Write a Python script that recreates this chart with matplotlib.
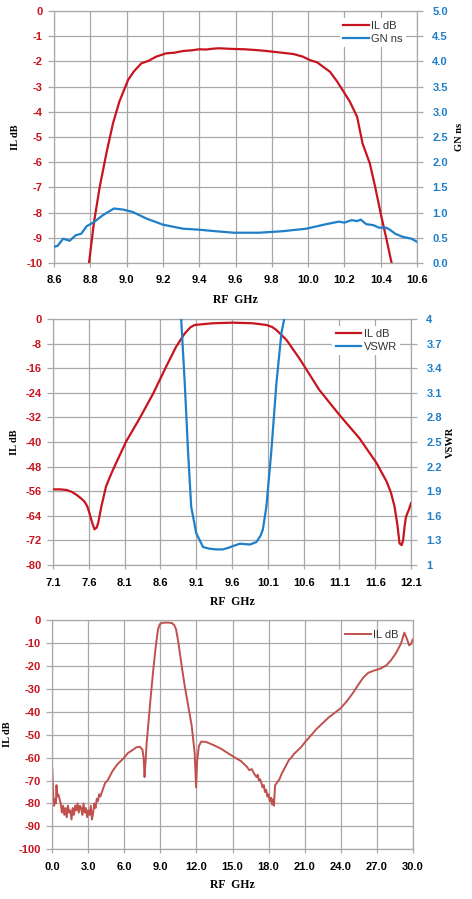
import numpy as np
import matplotlib
matplotlib.use('Agg')
import matplotlib.pyplot as plt
from matplotlib.ticker import FormatStrFormatter
from matplotlib.font_manager import FontProperties

# ---- panel 1: passband IL + group delay
f1_il = [8.78, 8.793, 8.82, 8.852, 8.89, 8.925, 8.96, 9.008, 9.04, 9.081, 9.12, 9.164, 9.219,
         9.26, 9.31, 9.36, 9.40, 9.44, 9.47, 9.51, 9.56, 9.60, 9.65, 9.71, 9.76, 9.81, 9.86,
         9.92, 9.97, 10.01, 10.05, 10.08, 10.12, 10.16, 10.19, 10.23, 10.27, 10.30, 10.34,
         10.37, 10.40, 10.43, 10.46, 10.47]
il1 = [-10.5, -10.0, -8.4, -6.98, -5.6, -4.46, -3.6, -2.74, -2.4, -2.08, -1.98, -1.81, -1.68,
       -1.66, -1.59, -1.56, -1.52, -1.53, -1.50, -1.48, -1.50, -1.51, -1.52, -1.55, -1.58,
       -1.62, -1.66, -1.71, -1.81, -1.95, -2.04, -2.2, -2.41, -2.8, -3.14, -3.6, -4.2, -5.26,
       -6.05, -7.0, -8.04, -9.0, -10.0, -10.4]
f1_gd = [8.60, 8.62, 8.65, 8.67, 8.686, 8.72, 8.75, 8.78, 8.82, 8.87, 8.93, 8.98, 9.035, 9.11,
         9.20, 9.31, 9.40, 9.49, 9.59, 9.73, 9.86, 9.99, 10.10, 10.17, 10.20, 10.24, 10.27,
         10.29, 10.32, 10.36, 10.39, 10.43, 10.45, 10.48, 10.52, 10.57, 10.6]
gd1 = [0.32, 0.34, 0.48, 0.46, 0.44, 0.55, 0.58, 0.73, 0.81, 0.95, 1.08, 1.06, 1.01, 0.88,
       0.76, 0.68, 0.66, 0.63, 0.60, 0.60, 0.63, 0.68, 0.77, 0.82, 0.80, 0.85, 0.83, 0.86,
       0.77, 0.75, 0.70, 0.70, 0.66, 0.58, 0.52, 0.48, 0.42]

# ---- panel 2: wideband IL + VSWR
f2_il = [7.1, 7.2, 7.29, 7.36, 7.43, 7.5, 7.54, 7.58, 7.61, 7.65, 7.68, 7.71, 7.73, 7.78, 7.84,
         7.91, 7.98, 8.12, 8.31, 8.50, 8.68, 8.82, 8.94, 9.02, 9.08, 9.33, 9.61, 9.89, 10.08,
         10.16, 10.22, 10.36, 10.54, 10.82, 11.1, 11.38, 11.62, 11.76, 11.82, 11.87, 11.91,
         11.94, 11.97, 11.99, 12.01, 12.03, 12.07, 12.1]
il2 = [-55.4, -55.4, -55.6, -56.2, -57.2, -58.5, -59.4, -61.0, -63.2, -66.5, -68.4, -67.8,
       -66.4, -60.5, -54.5, -50.5, -46.9, -39.9, -32.3, -24.2, -15.5, -9.0, -4.7, -2.7, -1.95,
       -1.4, -1.2, -1.4, -1.95, -2.6, -3.6, -6.8, -12.8, -23.1, -31.2, -38.8, -46.9, -52.9,
       -56.5, -61.0, -67.0, -73.0, -73.5, -71.9, -67.5, -64.3, -62.0, -59.9]
f2_vs = [8.87, 8.89, 8.94, 8.985, 9.03, 9.10, 9.195, 9.28, 9.38, 9.47, 9.55, 9.61, 9.71, 9.78,
         9.85, 9.94, 10.0, 10.03, 10.08, 10.15, 10.22, 10.29, 10.33, 10.35]
vswr2 = [4.4, 4.0, 3.215, 2.40, 1.71, 1.39, 1.22, 1.20, 1.19, 1.19, 1.21, 1.23, 1.26, 1.255,
         1.25, 1.28, 1.36, 1.43, 1.71, 2.40, 3.215, 3.83, 4.0, 4.3]

# ---- panel 3: ultra-wideband IL
f3 = [0.0, 0.05, 0.1, 0.15, 0.2, 0.3, 0.35, 0.4, 0.5, 0.6, 0.7, 0.8, 0.9, 1.0, 1.1, 1.2, 1.3,
      1.4, 1.5, 1.6, 1.7, 1.8, 1.9, 2.0, 2.1, 2.2, 2.3, 2.4, 2.5, 2.6, 2.7, 2.8, 2.9, 3.0, 3.1,
      3.2, 3.3, 3.4, 3.5, 3.6, 3.7, 3.8, 3.9, 4.0, 4.2, 4.4, 4.6, 4.8,
      5.0, 5.4, 5.9, 6.3, 6.6, 7.0, 7.3, 7.5, 7.6, 7.68, 7.75, 7.85, 8.0, 8.2, 8.4, 8.6, 8.8,
      8.95, 9.2, 9.6, 9.95, 10.15, 10.3, 10.5, 10.77, 11.0, 11.3, 11.6, 11.85, 11.97, 12.05,
      12.2, 12.4, 12.8, 13.4, 14.0, 14.6, 15.2, 15.7, 16.0,
      16.2, 16.4, 16.6, 16.8, 17.0, 17.1, 17.2, 17.3, 17.4, 17.5, 17.6, 17.7, 17.8, 17.9,
      18.0, 18.1, 18.2, 18.3, 18.4, 18.45, 18.5, 18.55, 18.7, 18.9, 19.1, 19.3, 19.5, 19.7,
      19.9, 20.1, 20.4, 20.7, 21.0, 21.5, 22.0, 22.5, 23.0, 23.5, 24.0, 24.5, 25.0, 25.5,
      25.9, 26.3, 26.8, 27.3, 27.8, 28.2, 28.6, 29.0, 29.1, 29.3, 29.5, 29.7, 29.85, 30.0]
il3 = [-65, -72, -79, -81, -78, -80, -72, -77, -76, -78, -80, -84, -81, -85, -82, -86, -81,
       -84, -83, -87, -82, -85, -81, -83, -80, -84, -81, -82, -85, -80, -84, -82, -86, -83,
       -85, -81, -87, -84, -80, -82, -78, -79, -76, -77, -74, -71, -70, -68,
       -66, -63, -60.5, -58, -57, -55.5, -55.3, -56.5, -60, -68.5, -63, -54, -45, -33, -22,
       -12, -4, -1.8, -1.2, -1.1, -1.3, -2.2, -4, -10, -20, -28, -37, -46, -58, -73, -62,
       -55, -53, -53.2, -54.5, -56, -58, -60, -61.5, -63,
       -64, -65.5, -65, -67, -68.5, -67.5, -70, -69.5, -71, -73, -72, -75, -74, -77, -76, -79,
       -77.5, -80.5, -78, -81, -76, -72, -71, -69.5, -67, -65, -63, -61, -60, -58.5, -57,
       -55.5, -53.5, -50.5, -47.5, -45, -42.5, -40.5, -38.5, -35.5, -32, -28, -25, -23, -22,
       -21.2, -19.8, -17.5, -14.5, -10.5, -9, -5.5, -8, -11, -10.5, -8.5]

RED = '#c8141e'
BLUE = '#1f7fc8'
RED3 = '#c0504d'
GRID = '#a8a8a8'
TICKFONT = dict(family='Liberation Sans', weight='bold', size=8)
TITLEFONT = dict(family='Liberation Serif', weight='bold', size=8.5)

plt.rcParams['font.family'] = 'Liberation Sans'

fig = plt.figure(figsize=(4.72, 8.99), dpi=100)


def style_axes(ax, ylabel_x, xlabel_y):
    ax.grid(True, color=GRID, linewidth=0.9)
    ax.set_axisbelow(True)
    for s in ax.spines.values():
        s.set_color(GRID)
        s.set_linewidth(0.9)
    ax.tick_params(axis='both', which='both', color=GRID, width=0.9)
    ax.tick_params(axis='y', length=4, pad=4, colors=GRID)
    ax.tick_params(axis='x', length=3, pad=6, colors=GRID)
    for lab in ax.get_yticklabels():
        lab.set_color(RED)
        lab.set_fontproperties(FontProperties(**TICKFONT))
    for lab in ax.get_xticklabels():
        lab.set_color('black')
        lab.set_fontproperties(FontProperties(**TICKFONT))
    ax.set_xlabel('RF  GHz', **TITLEFONT)
    ax.set_ylabel('IL dB', **dict(TITLEFONT, size=7.5))
    ax.yaxis.set_label_coords(ylabel_x, 0.5)
    ax.xaxis.set_label_coords(0.5, xlabel_y)


def style_right(ax2, label, label_x):
    for s in ax2.spines.values():
        s.set_visible(False)
    ax2.tick_params(axis='y', length=4, pad=7, colors=GRID, width=0.9)
    for lab in ax2.get_yticklabels():
        lab.set_color(BLUE)
        lab.set_fontproperties(FontProperties(**TICKFONT))
    ax2.set_ylabel(label, rotation=90, **dict(TITLEFONT, size=7.5))
    ax2.yaxis.set_label_coords(label_x, 0.5)


def add_legend(ax, handles, frame=True):
    leg = ax.legend(handles, [l.get_label() for l in handles], loc='upper right',
                    bbox_to_anchor=(0.985, 0.995), fontsize=8, frameon=frame,
                    facecolor='white', edgecolor='none', framealpha=1,
                    handlelength=2.3, handletextpad=0.2, labelspacing=0.25, borderpad=0.3,
                    fancybox=False)
    for t in leg.get_texts():
        t.set_color('#333333')


# panel 1
ax1 = fig.add_axes([0.1144, 0.7075, 0.7691, 0.2803])
ax1.plot(f1_il, il1, color=RED, lw=1.6, label='IL dB', zorder=3)
ax1.set_xlim(8.6, 10.6)
ax1.set_ylim(-10, 0)
ax1.set_xticks(np.arange(8.6, 10.61, 0.2))
ax1.set_yticks(np.arange(-10, 0.1, 1))
ax1.xaxis.set_major_formatter(FormatStrFormatter('%.1f'))
ax1.yaxis.set_major_formatter(FormatStrFormatter('%d'))
style_axes(ax1, -0.094, -0.123)
ax1b = ax1.twinx()
ax1b.plot(f1_gd, gd1, color=BLUE, lw=1.6, label='GN ns')
ax1b.set_ylim(0, 5)
ax1b.set_yticks(np.arange(0, 5.01, 0.5))
ax1b.yaxis.set_major_formatter(FormatStrFormatter('%.1f'))
style_right(ax1b, 'GN ns', 1.106)
add_legend(ax1b, ax1.get_lines() + ax1b.get_lines())

# panel 2
ax2 = fig.add_axes([0.1123, 0.3715, 0.7585, 0.2737])
ax2.plot(f2_il, il2, color=RED, lw=1.6, label='IL dB', zorder=3)
ax2.set_xlim(7.1, 12.1)
ax2.set_ylim(-80, 0)
ax2.set_xticks(np.arange(7.1, 12.11, 0.5))
ax2.set_yticks(np.arange(-80, 0.1, 8))
ax2.xaxis.set_major_formatter(FormatStrFormatter('%.1f'))
ax2.yaxis.set_major_formatter(FormatStrFormatter('%d'))
style_axes(ax2, -0.096, -0.126)
ax2b = ax2.twinx()
ax2b.plot(f2_vs, vswr2, color=BLUE, lw=1.6, label='VSWR')
ax2b.set_ylim(1, 4)
ax2b.set_yticks(np.arange(1, 4.01, 0.3))
ax2b.yaxis.set_major_formatter(FormatStrFormatter('%g'))
style_right(ax2b, 'VSWR', 1.096)
add_legend(ax2b, ax2.get_lines() + ax2b.get_lines())

# panel 3
ax3 = fig.add_axes([0.1108, 0.0553, 0.7636, 0.2550])
ax3.plot(f3, il3, color=RED3, lw=1.4, label='IL dB')
ax3.set_xlim(0, 30)
ax3.set_ylim(-100, 0)
ax3.set_xticks(np.arange(0, 30.1, 3))
ax3.set_yticks(np.arange(-100, 0.1, 10))
ax3.xaxis.set_major_formatter(FormatStrFormatter('%.1f'))
ax3.yaxis.set_major_formatter(FormatStrFormatter('%d'))
style_axes(ax3, -0.113, -0.131)
add_legend(ax3, ax3.get_lines(), frame=False)

fig.savefig('out.png', dpi=100)
